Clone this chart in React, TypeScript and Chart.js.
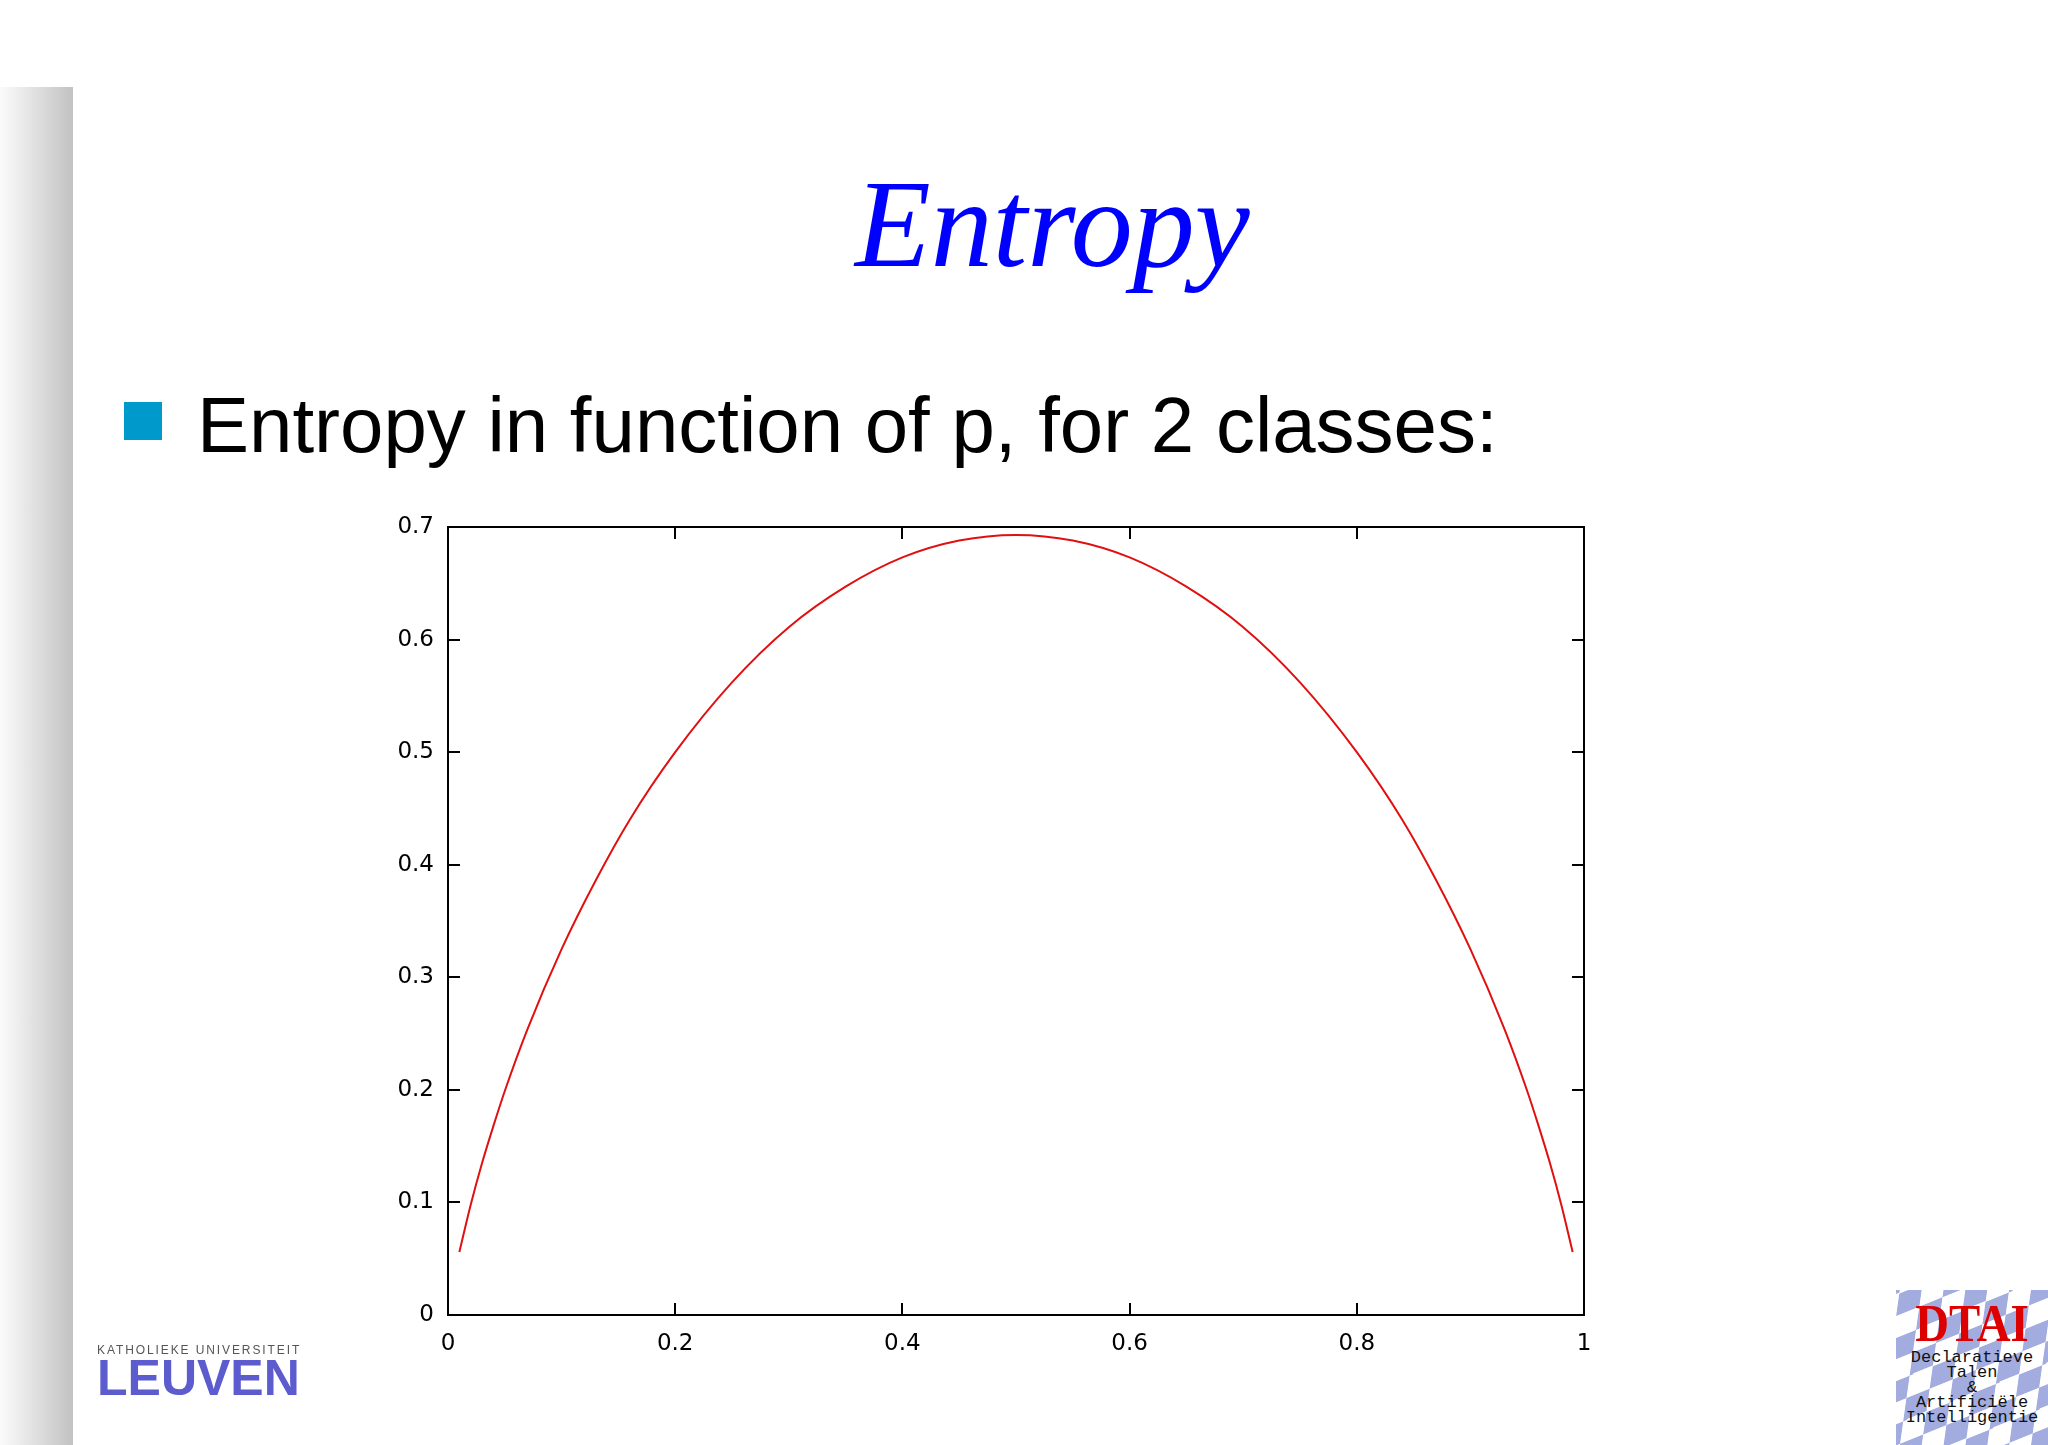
import React, { useEffect, useRef } from "react";
import { Chart, registerables } from "chart.js";

Chart.register(...registerables);

// Probability p of class 1 (x) and the entropy (y, in nats)
const pValues = [
  0.01, 0.02, 0.03, 0.04, 0.05, 0.07, 0.1, 0.13, 0.16, 0.2, 0.25, 0.3, 0.35, 0.4, 0.45, 0.5,
  0.55, 0.6, 0.65, 0.7, 0.75, 0.8, 0.84, 0.87, 0.9, 0.93, 0.95, 0.96, 0.97, 0.98, 0.99,
];
const entropyValues = [
  0.056, 0.098, 0.135, 0.168, 0.199, 0.254, 0.325, 0.386, 0.44, 0.5, 0.562, 0.611, 0.647, 0.673, 0.688, 0.693,
  0.688, 0.673, 0.647, 0.611, 0.562, 0.5, 0.44, 0.386, 0.325, 0.254, 0.199, 0.168, 0.135, 0.098, 0.056,
];
const xTicks = [0, 0.2, 0.4, 0.6, 0.8, 1];
const xTickLabels = ["0", "0.2", "0.4", "0.6", "0.8", "1"];
const yTicks = [0, 0.1, 0.2, 0.3, 0.4, 0.5, 0.6, 0.7];
const yTickLabels = ["0", "0.1", "0.2", "0.3", "0.4", "0.5", "0.6", "0.7"];

const titleText = "Entropy";
const bulletText = "Entropy in function of p, for 2 classes:";

const framePlugin = {
  id: "gnuplotFrame",
  afterDraw(chart: any) {
    const { ctx, chartArea: a, scales } = chart;
    ctx.save();
    ctx.strokeStyle = "#000";
    ctx.lineWidth = 2;
    ctx.strokeRect(a.left, a.top, a.right - a.left, a.bottom - a.top);
    ctx.beginPath();
    const len = 12;
    for (const v of xTicks) {
      const x = Math.round(scales.x.getPixelForValue(v));
      ctx.moveTo(x, a.bottom);
      ctx.lineTo(x, a.bottom - len);
      ctx.moveTo(x, a.top);
      ctx.lineTo(x, a.top + len);
    }
    for (const v of yTicks) {
      const y = Math.round(scales.y.getPixelForValue(v));
      ctx.moveTo(a.left, y);
      ctx.lineTo(a.left + len, y);
      ctx.moveTo(a.right, y);
      ctx.lineTo(a.right - len, y);
    }
    ctx.stroke();
    ctx.restore();
  },
};

function EntropyChart() {
  const ref = useRef<HTMLCanvasElement | null>(null);
  useEffect(() => {
    if (!ref.current) return;
    const tickFont = { family: "DejaVu Sans", size: 23 };
    const chart = new Chart(ref.current, {
      type: "line",
      data: {
        datasets: [
          {
            data: pValues.map((p, i) => ({ x: p, y: entropyValues[i] })),
            borderColor: "#e01010",
            borderWidth: 2,
            pointRadius: 0,
            cubicInterpolationMode: "monotone",
            fill: false,
          },
        ],
      },
      options: {
        animation: false,
        responsive: false,
        devicePixelRatio: 1,
        layout: { padding: { left: 0, right: 56, top: 37, bottom: 0 } },
        plugins: { legend: { display: false }, tooltip: { enabled: false }, title: { display: false } },
        scales: {
          x: {
            type: "linear",
            min: 0,
            max: 1,
            afterBuildTicks: (s: any) => {
              s.ticks = xTicks.map((v) => ({ value: v }));
            },
            afterFit: (s: any) => {
              s.height = 55;
            },
            ticks: {
              callback: (_v: any, i: number) => xTickLabels[i],
              font: tickFont,
              color: "#000",
              padding: 15,
              maxRotation: 0,
              autoSkip: false,
            },
            grid: { display: false, drawTicks: false },
            border: { display: false },
          },
          y: {
            type: "linear",
            min: 0,
            max: 0.7,
            afterBuildTicks: (s: any) => {
              s.ticks = yTicks.map((v) => ({ value: v }));
            },
            afterFit: (s: any) => {
              s.width = 148;
            },
            ticks: {
              callback: (_v: any, i: number) => yTickLabels[i],
              font: tickFont,
              color: "#000",
              padding: 14,
              autoSkip: false,
            },
            grid: { display: false, drawTicks: false },
            border: { display: false },
          },
        },
      },
      plugins: [framePlugin],
    } as any);
    return () => chart.destroy();
  }, []);
  return (
    <canvas
      ref={ref}
      width={1340}
      height={880}
      style={{ position: "absolute", left: 300, top: 490, width: 1340, height: 880 }}
    />
  );
}

function DtaiLogo() {
  const lines = ["Declaratieve", "Talen", "&", "Artificiële", "Intelligentie"];
  return (
    <div style={{ position: "absolute", left: 1896, top: 1290, width: 152, height: 155, overflow: "hidden" }}>
      <div
        style={{
          position: "absolute",
          left: -120,
          top: -120,
          width: 400,
          height: 400,
          background:
            "conic-gradient(#a3acdf 25%, #ffffff 0 50%, #a3acdf 0 75%, #ffffff 0) 0 0 / 50px 50px",
          transform: "rotate(-22deg) skewX(-30deg) scaleY(0.8)",
        }}
      />
      <div
        style={{
          position: "absolute",
          left: 0,
          top: 10,
          width: 152,
          textAlign: "center",
          fontFamily: "Liberation Serif",
          fontWeight: "bold",
          fontSize: 52,
          lineHeight: "48px",
          color: "#dd0000",
          transform: "scaleX(0.9)",
        }}
      >
        DTAI
      </div>
      <div
        style={{
          position: "absolute",
          left: -6,
          top: 60,
          width: 164,
          textAlign: "center",
          fontFamily: "Liberation Mono",
          fontSize: 17,
          lineHeight: "15px",
          color: "#111",
        }}
      >
        {lines.map((l, i) => (
          <div key={i}>{l}</div>
        ))}
      </div>
    </div>
  );
}

export default function App() {
  return (
    <div
      style={{
        position: "absolute",
        left: 0,
        top: 0,
        width: 2048,
        height: 1445,
        overflow: "hidden",
        background: "#fff",
      }}
    >
      <div
        style={{
          position: "absolute",
          left: 0,
          top: 87,
          width: 73,
          height: 1358,
          background: "linear-gradient(to right, #fbfbfb, #e2e2e2 45%, #c2c2c2)",
        }}
      />
      <div
        style={{
          position: "absolute",
          left: 855,
          top: 150,
          fontFamily: "Liberation Serif",
          fontStyle: "italic",
          fontSize: 124,
          lineHeight: "150px",
          color: "#0000ff",
          whiteSpace: "nowrap",
        }}
      >
        {titleText}
      </div>
      <div style={{ position: "absolute", left: 124, top: 402, width: 38, height: 38, background: "#0099cc" }} />
      <div
        style={{
          position: "absolute",
          left: 197,
          top: 375,
          fontFamily: "Liberation Sans",
          fontSize: 78,
          lineHeight: "100px",
          color: "#000",
          whiteSpace: "nowrap",
        }}
      >
        {bulletText}
      </div>
      <EntropyChart />
      <div style={{ position: "absolute", left: 97, top: 1343, width: 205 }}>
        <div
          style={{
            fontFamily: "Liberation Sans",
            fontSize: 12,
            lineHeight: "14px",
            color: "#555",
            letterSpacing: 1.9,
            whiteSpace: "nowrap",
          }}
        >
          KATHOLIEKE UNIVERSITEIT
        </div>
        <div
          style={{
            fontFamily: "Liberation Sans",
            fontWeight: "bold",
            fontSize: 50,
            lineHeight: "42px",
            color: "#5c5ccf",
            whiteSpace: "nowrap",
          }}
        >
          LEUVEN
        </div>
      </div>
      <DtaiLogo />
    </div>
  );
}
